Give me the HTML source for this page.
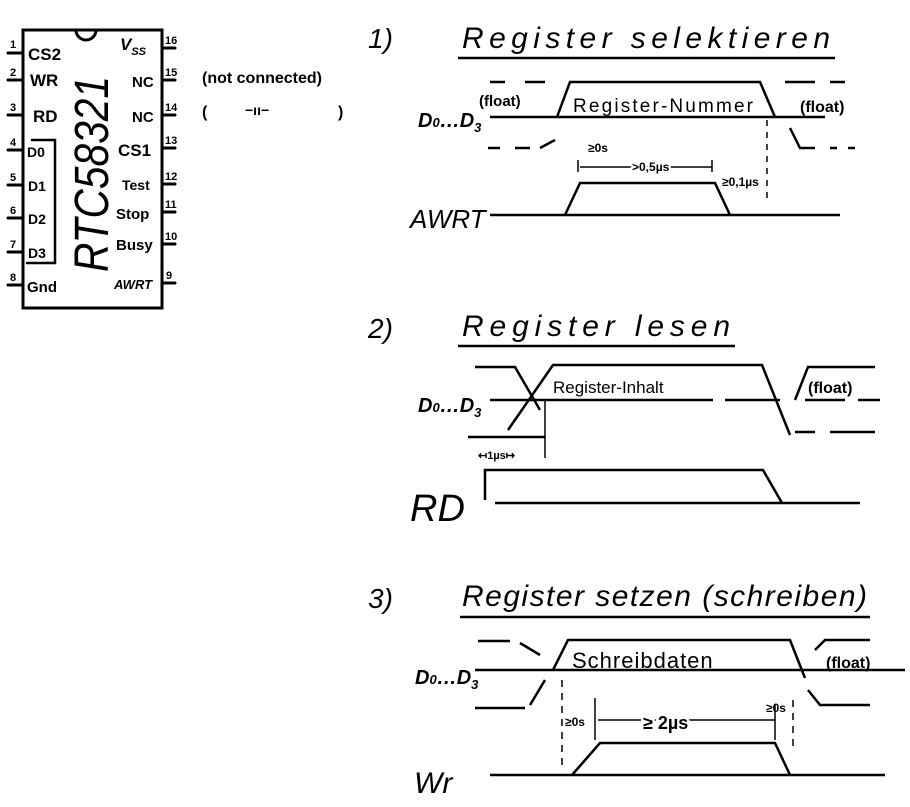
<!DOCTYPE html>
<html><head><meta charset="utf-8"><style>
html,body{margin:0;padding:0;background:#fff;}
svg{display:block;}
text{font-family:"Liberation Sans",sans-serif;fill:#000;}
</style></head><body>
<svg width="910" height="807" viewBox="0 0 910 807" xmlns="http://www.w3.org/2000/svg">
<g stroke="#000" stroke-width="3" fill="none" stroke-linecap="round">
<rect x="23" y="30" width="139" height="278"/>
<path d="M76 30 A10 10 0 0 0 96 30"/>
<path d="M8 53H23M8 80H23M8 115H23M8 150H23M8 185H23M8 218H23M8 252H23M8 285H23"/>
<path d="M162 48H175M162 80H175M162 115H175M162 148H175M162 184H175M162 212H175M162 244H175M162 283H175"/>
<path d="M32 140H55V263H27" stroke-width="2.5"/>
</g>
<g font-weight="bold" font-size="17">
<text x="28" y="60">CS2</text><text x="30" y="86">WR</text><text x="33" y="122">RD</text>
<text x="27" y="157" font-size="14">D0</text><text x="28" y="191" font-size="14">D1</text>
<text x="28" y="224" font-size="14">D2</text><text x="28" y="258" font-size="14">D3</text>
<text x="27" y="292" font-size="15">Gnd</text>
<text x="120" y="50" font-style="italic">V<tspan font-size="11" dy="5">SS</tspan></text>
<text x="132" y="87" font-size="15">NC</text><text x="132" y="122" font-size="15">NC</text>
<text x="118" y="156">CS1</text><text x="122" y="190" font-size="14">Test</text>
<text x="116" y="219" font-size="15">Stop</text><text x="116" y="250" font-size="15">Busy</text>
<text x="114" y="289" font-size="13" font-style="italic">AWRT</text>
</g>
<g font-size="11" font-weight="bold">
<text x="10" y="48">1</text><text x="10" y="76">2</text><text x="10" y="111">3</text><text x="10" y="146">4</text>
<text x="10" y="181">5</text><text x="10" y="214">6</text><text x="10" y="248">7</text><text x="10" y="281">8</text>
<text x="165" y="44">16</text><text x="165" y="76">15</text><text x="165" y="111">14</text><text x="165" y="144">13</text>
<text x="165" y="180">12</text><text x="165" y="208">11</text><text x="165" y="240">10</text><text x="166" y="279">9</text>
</g>
<text transform="translate(108,272) rotate(-90)" font-size="48" font-style="italic" textLength="196" lengthAdjust="spacingAndGlyphs">RTC58321</text>
<text x="202" y="83" font-size="16" font-weight="bold">(not connected)</text>
<text x="202" y="117" font-size="16" font-weight="bold">(</text><text x="245" y="115" font-size="14" font-weight="bold">−ıı−</text><text x="338" y="117" font-size="16" font-weight="bold">)</text>

<!-- Section 1 -->
<text x="368" y="48" font-size="28" font-style="italic">1)</text>
<text x="462" y="48" font-size="30" font-style="italic" textLength="368" lengthAdjust="spacing">Register selektieren</text>
<g stroke="#000" stroke-width="2.5" fill="none">
<path d="M458 58H835"/>
<path d="M490 117H825"/>
<path d="M557 117L570 82H760L775 117"/>
<path d="M490 82H505M525 82H545M785 82L795 82H815M830 82H845" />
<path d="M488 148H500M515 148H530M540 148L555 140M790 128L800 148H815M830 148H837M848 148H855"/>
<path d="M490 215H840M565 215L580 183H715L730 215"/>
<path d="M580 167H712M578 160V172M712 160V172" stroke-width="1.5"/>
<path d="M767 120V200" stroke-width="1.5" stroke-dasharray="6 6"/>
</g>
<text x="418" y="127" font-size="20" font-style="italic" font-weight="bold">D<tspan font-size="13">0</tspan>…D<tspan font-size="13" dy="5">3</tspan></text>
<text x="479" y="106" font-size="15" font-weight="bold">(float)</text>
<text x="573" y="112" font-size="19" textLength="180" lengthAdjust="spacing">Register-Nummer</text>
<text x="800" y="112" font-size="16" font-weight="bold">(float)</text>
<text x="588" y="152" font-size="12" font-weight="bold">≥0s</text>
<text x="632" y="171" font-size="12" font-weight="bold" style="paint-order:stroke;stroke:#fff;stroke-width:4">&gt;0,5µs</text>
<text x="722" y="186" font-size="12" font-weight="bold">≥0,1µs</text>
<text x="410" y="228" font-size="26" font-style="italic">AWRT</text>

<!-- Section 2 -->
<text x="368" y="338" font-size="28" font-style="italic">2)</text>
<text x="462" y="336" font-size="30" font-style="italic" textLength="268" lengthAdjust="spacing">Register lesen</text>
<g stroke="#000" stroke-width="2.5" fill="none">
<path d="M458 346H735"/>
<path d="M475 367H515L540 410"/>
<path d="M508 430L553 365H762L790 435"/>
<path d="M490 400H713M725 400H780M805 400H845M858 400H880"/>
<path d="M468 437H545M795 432H815M830 432H875M795 400L808 367H875"/>
<path d="M545 400V458" stroke-width="1.5"/>
<path d="M485 500V470H763L782 503M495 503H860"/>
</g>
<text x="418" y="412" font-size="20" font-style="italic" font-weight="bold">D<tspan font-size="13">0</tspan>…D<tspan font-size="13" dy="5">3</tspan></text>
<text x="553" y="393" font-size="17">Register-Inhalt</text>
<text x="808" y="393" font-size="16" font-weight="bold">(float)</text>
<text x="478" y="459" font-size="11" font-weight="bold">↤1µs↦</text>
<text x="410" y="521" font-size="38" font-style="italic">RD</text>

<!-- Section 3 -->
<text x="368" y="608" font-size="28" font-style="italic">3)</text>
<text x="462" y="606" font-size="30" font-style="italic" textLength="405" lengthAdjust="spacing">Register setzen (schreiben)</text>
<g stroke="#000" stroke-width="2.5" fill="none">
<path d="M460 617H870"/>
<path d="M475 670H905"/>
<path d="M553 670L568 640H790L805 678"/>
<path d="M478 641H510M520 643L540 655M545 680L530 705M475 708H525"/>
<path d="M815 650L825 640H870M808 690L820 705H870"/>
<path d="M490 775H885M572 775L600 743H775L790 775"/>
<path d="M562 680V765M793 700V748" stroke-width="1.5" stroke-dasharray="7 6"/>
<path d="M598 720H775M595 698V740M775 705V740" stroke-width="1.5"/>
</g>
<text x="415" y="684" font-size="20" font-style="italic" font-weight="bold">D<tspan font-size="13">0</tspan>…D<tspan font-size="13" dy="5">3</tspan></text>
<text x="572" y="668" font-size="22" letter-spacing="1">Schreibdaten</text>
<text x="826" y="668" font-size="16" font-weight="bold">(float)</text>
<text x="565" y="726" font-size="12" font-weight="bold">≥0s</text>
<text x="643" y="729" font-size="18" font-weight="bold" style="paint-order:stroke;stroke:#fff;stroke-width:5">≥ 2µs</text>
<text x="766" y="712" font-size="12" font-weight="bold">≥0s</text>
<text x="414" y="793" font-size="30" font-style="italic">Wr</text>
</svg>
</body></html>
